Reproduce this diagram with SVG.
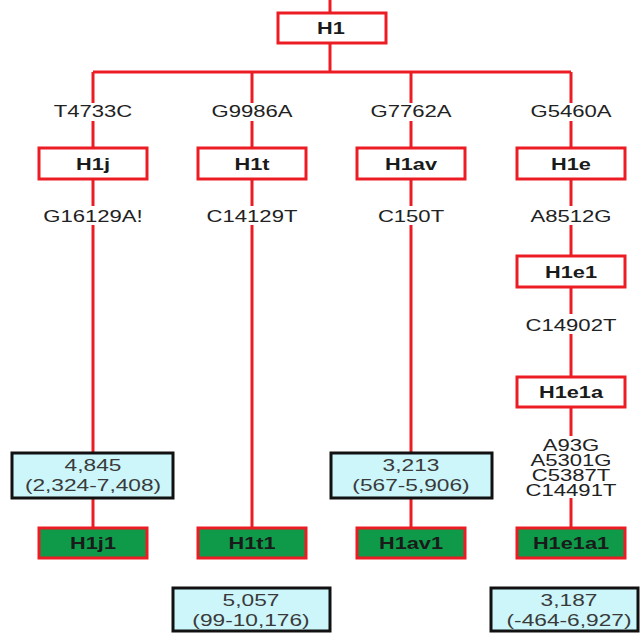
<svg xmlns="http://www.w3.org/2000/svg" width="641" height="635" viewBox="0 0 641 635">
  <style>
    .conn { stroke: #ec1c24; stroke-width: 3; fill: none; }
    .node rect { fill: #ffffff; stroke: #ec1c24; stroke-width: 3; }
    .leaf rect { fill: #0e9a48; stroke: #ec1c24; stroke-width: 3; }
    .age rect { fill: #ccf6fa; stroke: #111111; stroke-width: 3; }
    .name { font-family: "Liberation Sans", Arial, sans-serif; font-weight: bold; font-size: 17px; fill: #1a1a1a; text-anchor: middle; }
    .mut { font-family: "Liberation Sans", Arial, sans-serif; font-size: 16px; fill: #222222; text-anchor: middle; }
    .num { font-family: "Liberation Sans", Arial, sans-serif; font-size: 16px; fill: #3a3a3a; text-anchor: middle; }
  </style>
  <rect width="641" height="635" fill="#ffffff"/>

  <!-- connectors -->
  <g id="connectors">
    <path class="conn" d="M330 0 V13 M330 43 V72 M93 72 H571"/>
    <!-- H1j column -->
    <path class="conn" d="M93 72 V103 M93 121 V148 M93 179 V206 M93 225 V453 M93 498 V528"/>
    <!-- H1t column -->
    <path class="conn" d="M252 72 V103 M252 121 V148 M252 179 V206 M252 225 V528"/>
    <!-- H1av column -->
    <path class="conn" d="M411 72 V103 M411 121 V148 M411 179 V206 M411 225 V453 M411 498 V528"/>
    <!-- H1e column -->
    <path class="conn" d="M571 72 V103 M571 121 V148 M571 179 V206 M571 225 V256 M571 287 V314 M571 334 V377 M571 407 V436 M571 498 V528"/>
  </g>

  <!-- mutation labels -->
  <g id="mutations">
    <text class="mut" transform="translate(93,117) scale(1.38,1)">T4733C</text>
    <text class="mut" transform="translate(252,117) scale(1.38,1)">G9986A</text>
    <text class="mut" transform="translate(411,117) scale(1.38,1)">G7762A</text>
    <text class="mut" transform="translate(571,117) scale(1.38,1)">G5460A</text>
    <text class="mut" transform="translate(93,222) scale(1.38,1)">G16129A!</text>
    <text class="mut" transform="translate(252,222) scale(1.38,1)">C14129T</text>
    <text class="mut" transform="translate(411,222) scale(1.38,1)">C150T</text>
    <text class="mut" transform="translate(571,222) scale(1.38,1)">A8512G</text>
    <text class="mut" transform="translate(571,331) scale(1.38,1)">C14902T</text>
    <text class="mut" transform="translate(571,451) scale(1.38,1)">A93G</text>
    <text class="mut" transform="translate(571,466) scale(1.38,1)">A5301G</text>
    <text class="mut" transform="translate(571,481) scale(1.38,1)">C5387T</text>
    <text class="mut" transform="translate(571,496) scale(1.38,1)">C14491T</text>
  </g>

  <!-- haplogroup nodes -->
  <g id="H1" class="node"><rect x="278" y="13" width="108" height="30"/><text class="name" transform="translate(331,34) scale(1.28,1)">H1</text></g>
  <g id="H1j" class="node"><rect x="39" y="148" width="108" height="31"/><text class="name" transform="translate(93,169.5) scale(1.28,1)">H1j</text></g>
  <g id="H1t" class="node"><rect x="198" y="148" width="108" height="31"/><text class="name" transform="translate(252,169.5) scale(1.28,1)">H1t</text></g>
  <g id="H1av" class="node"><rect x="357" y="148" width="108" height="31"/><text class="name" transform="translate(411,169.5) scale(1.28,1)">H1av</text></g>
  <g id="H1e" class="node"><rect x="517" y="148" width="108" height="31"/><text class="name" transform="translate(571,169.5) scale(1.28,1)">H1e</text></g>
  <g id="H1e1" class="node"><rect x="517" y="256" width="108" height="31"/><text class="name" transform="translate(571,277.5) scale(1.28,1)">H1e1</text></g>
  <g id="H1e1a" class="node"><rect x="517" y="377" width="108" height="30"/><text class="name" transform="translate(571,398) scale(1.28,1)">H1e1a</text></g>

  <!-- leaf haplogroups -->
  <g id="H1j1" class="leaf"><rect x="39" y="528" width="108" height="30"/><text class="name" transform="translate(93,549) scale(1.28,1)">H1j1</text></g>
  <g id="H1t1" class="leaf"><rect x="198" y="528" width="108" height="30"/><text class="name" transform="translate(252,549) scale(1.28,1)">H1t1</text></g>
  <g id="H1av1" class="leaf"><rect x="357" y="528" width="108" height="30"/><text class="name" transform="translate(411,549) scale(1.28,1)">H1av1</text></g>
  <g id="H1e1a1" class="leaf"><rect x="517" y="528" width="108" height="30"/><text class="name" transform="translate(571,549) scale(1.28,1)">H1e1a1</text></g>

  <!-- age estimates -->
  <g id="age-H1j1" class="age"><rect x="12" y="453" width="161" height="45"/>
    <text class="num" transform="translate(93,471) scale(1.42,1)">4,845</text>
    <text class="num" transform="translate(93,491) scale(1.42,1)">(2,324-7,408)</text></g>
  <g id="age-H1av1" class="age"><rect x="331" y="453" width="161" height="45"/>
    <text class="num" transform="translate(411,471) scale(1.42,1)">3,213</text>
    <text class="num" transform="translate(411,491) scale(1.42,1)">(567-5,906)</text></g>
  <g id="age-H1t1" class="age"><rect x="173" y="588" width="157" height="43"/>
    <text class="num" transform="translate(251,606) scale(1.42,1)">5,057</text>
    <text class="num" transform="translate(251,626) scale(1.42,1)">(99-10,176)</text></g>
  <g id="age-H1e1a1" class="age"><rect x="491" y="588" width="147" height="43"/>
    <text class="num" transform="translate(569,606) scale(1.42,1)">3,187</text>
    <text class="num" transform="translate(569,626) scale(1.42,1)">(-464-6,927)</text></g>
</svg>
